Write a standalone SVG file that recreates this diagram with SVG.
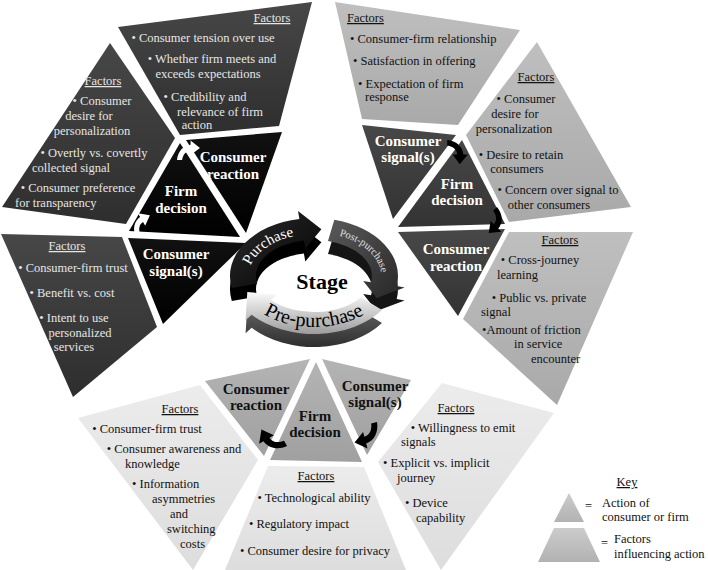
<svg xmlns="http://www.w3.org/2000/svg" width="708" height="570" viewBox="0 0 708 570">
<style>
.f{font-family:"Liberation Serif","Times New Roman",serif;font-size:12.5px}
.lt{fill:#e6e6e6}
.dk{fill:#111111}
.m{text-anchor:middle}
.u{text-decoration:underline}
.a{font-family:"Liberation Serif","Times New Roman",serif;font-weight:bold;font-size:15px;text-anchor:middle}
.aw{fill:#ffffff}
.ab{fill:#111111}
.warr{fill:#ffffff}
.barr{fill:#000000}
</style>
<defs>
<linearGradient id="gLF" x1="0" y1="0" x2="0" y2="1"><stop offset="0" stop-color="#474747"/><stop offset="1" stop-color="#2e2e2e"/></linearGradient>
<linearGradient id="gLA" x1="0" y1="0" x2="0" y2="1"><stop offset="0" stop-color="#111111"/><stop offset="1" stop-color="#000000"/></linearGradient>
<linearGradient id="gRF" x1="0" y1="0" x2="0" y2="1"><stop offset="0" stop-color="#bfbfbf"/><stop offset="1" stop-color="#a9a9a9"/></linearGradient>
<linearGradient id="gRA" x1="0" y1="0" x2="0" y2="1"><stop offset="0" stop-color="#484848"/><stop offset="1" stop-color="#333333"/></linearGradient>
<linearGradient id="gBF" x1="0" y1="0" x2="0" y2="1"><stop offset="0" stop-color="#ececec"/><stop offset="1" stop-color="#dddddd"/></linearGradient>
<linearGradient id="gBA" x1="0" y1="0" x2="0" y2="1"><stop offset="0" stop-color="#b4b4b4"/><stop offset="1" stop-color="#a0a0a0"/></linearGradient>
<linearGradient id="gKey" x1="0" y1="0" x2="0" y2="1"><stop offset="0" stop-color="#cccccc"/><stop offset="1" stop-color="#b2b2b2"/></linearGradient>
<linearGradient id="gPur" x1="0" y1="0" x2="1" y2="1"><stop offset="0" stop-color="#2c2c2c"/><stop offset="1" stop-color="#020202"/></linearGradient>
<linearGradient id="gPost" x1="0" y1="0" x2="1" y2="1"><stop offset="0" stop-color="#5a5a5a"/><stop offset="1" stop-color="#262626"/></linearGradient>
<linearGradient id="gPre" x1="0" y1="0" x2="0" y2="1"><stop offset="0" stop-color="#fbfbfb"/><stop offset="1" stop-color="#9c9c9c"/></linearGradient>
<linearGradient id="gPreX" x1="0" y1="0" x2="0" y2="1"><stop offset="0" stop-color="#666666"/><stop offset="1" stop-color="#2e2e2e"/></linearGradient>
<path id="carrow" d="M0,22 C1,12 7,5 16,4 L16,-1 L27,8 L16,16 L16,11 C11,11 7,15 6,22 Z"/>
<path id="tpPur" d="M248.3,279.7 A66,43 0 0 1 308.2,234.2"/>
<path id="tpPost" d="M331,234 A67,44 0 0 1 381,281"/>
<path id="tpPre" d="M251.8,305.3 A76,51 0 0 0 376.2,305.3"/>
</defs>

<!-- LEFT GROUP (purchase) -->
<g id="L-factors-top">
<polygon points="118,27 312,2 279,126 180,135" fill="url(#gLF)"/>
<text class="f lt m u" x="272" y="22">Factors</text>
<text class="f lt m" x="203" y="42">• Consumer tension over use</text>
<text class="f lt m" x="212" y="63">• Whether firm meets and</text>
<text class="f lt m" x="208" y="78">exceeds expectations</text>
<text class="f lt m" x="205" y="101">• Credibility and</text>
<text class="f lt m" x="220" y="116">relevance of firm</text>
<text class="f lt m" x="197" y="129">action</text>
</g>
<g id="L-factors-left">
<polygon points="110,43 175,138 126,224 2,207" fill="url(#gLF)"/>
<text class="f lt m u" x="103" y="85">Factors</text>
<text class="f lt m" x="102" y="105">• Consumer</text>
<text class="f lt m" x="89" y="120">desire for</text>
<text class="f lt m" x="92" y="135">personalization</text>
<text class="f lt m" x="94" y="157">• Overtly vs. covertly</text>
<text class="f lt" x="32" y="172">collected signal</text>
<text class="f lt m" x="78" y="192">• Consumer preference</text>
<text class="f lt" x="15" y="207">for transparency</text>
</g>
<g id="L-factors-bottom">
<polygon points="1,234 122,237 157,327 73,397" fill="url(#gLF)"/>
<text class="f lt m u" x="67" y="250">Factors</text>
<text class="f lt m" x="73" y="272">• Consumer-firm trust</text>
<text class="f lt m" x="72" y="297">• Benefit vs. cost</text>
<text class="f lt m" x="74" y="322">• Intent to use</text>
<text class="f lt m" x="80" y="337">personalized</text>
<text class="f lt m" x="74" y="351">services</text>
</g>
<g id="L-consumer-reaction">
<polygon points="186,140 282,132 246,233" fill="url(#gLA)"/>
<text class="a aw" x="233" y="162">Consumer</text>
<text class="a aw" x="233" y="179">reaction</text>
</g>
<g id="L-firm-decision">
<polygon points="180,143 129,231 240,237" fill="url(#gLA)"/>
<text class="a aw" x="181" y="196">Firm</text>
<text class="a aw" x="181" y="213">decision</text>
</g>
<g id="L-consumer-signal">
<polygon points="128,238 246,243 163,324" fill="url(#gLA)"/>
<text class="a aw" x="176" y="259">Consumer</text>
<text class="a aw" x="176" y="276">signal(s)</text>
</g>

<!-- RIGHT GROUP (post-purchase) -->
<g id="R-factors-top">
<polygon points="335,2 520,30 458,125 362,119" fill="url(#gRF)"/>
<text class="f dk u" x="347" y="22">Factors</text>
<text class="f dk" x="350" y="43">• Consumer-firm relationship</text>
<text class="f dk" x="353" y="65">• Satisfaction in offering</text>
<text class="f dk" x="358" y="88">• Expectation of firm</text>
<text class="f dk" x="365" y="101">response</text>
</g>
<g id="R-factors-right">
<polygon points="537,42 631,207 509,222 466,135" fill="url(#gRF)"/>
<text class="f dk m u" x="536" y="81">Factors</text>
<text class="f dk m" x="526" y="103">• Consumer</text>
<text class="f dk m" x="515" y="118">desire for</text>
<text class="f dk m" x="514" y="133">personalization</text>
<text class="f dk m" x="521" y="159">• Desire to retain</text>
<text class="f dk m" x="517" y="173">consumers</text>
<text class="f dk m" x="558" y="194">• Concern over signal to</text>
<text class="f dk m" x="549" y="209">other consumers</text>
</g>
<g id="R-factors-bottom">
<polygon points="509,232 633,232 557,405 463,319" fill="url(#gRF)"/>
<text class="f dk m u" x="560" y="244">Factors</text>
<text class="f dk m" x="540" y="264">• Cross-journey</text>
<text class="f dk" x="497" y="279">learning</text>
<text class="f dk m" x="539" y="302">• Public vs. private</text>
<text class="f dk" x="481" y="316">signal</text>
<text class="f dk" x="482" y="334">•Amount of friction</text>
<text class="f dk" x="514" y="348">in service</text>
<text class="f dk" x="531" y="363">encounter</text>
</g>
<g id="R-consumer-signal">
<polygon points="362,125 456,135 393,219" fill="url(#gRA)"/>
<text class="a aw" x="408" y="146">Consumer</text>
<text class="a aw" x="408" y="162">signal(s)</text>
</g>
<g id="R-firm-decision">
<polygon points="462,140 398,227 505,224" fill="url(#gRA)"/>
<text class="a aw" x="457" y="189">Firm</text>
<text class="a aw" x="457" y="205">decision</text>
</g>
<g id="R-consumer-reaction">
<polygon points="398,232 505,229 458,316" fill="url(#gRA)"/>
<text class="a aw" x="456" y="254">Consumer</text>
<text class="a aw" x="456" y="271">reaction</text>
</g>

<!-- BOTTOM GROUP (pre-purchase) -->
<g id="B-factors-left">
<polygon points="78,418 200,385 258,460 193,570" fill="url(#gBF)"/>
<text class="f dk m u" x="180" y="413">Factors</text>
<text class="f dk m" x="147" y="433">• Consumer-firm trust</text>
<text class="f dk m" x="174" y="453">• Consumer awareness and</text>
<text class="f dk" x="125" y="468">knowledge</text>
<text class="f dk" x="132" y="488">• Information</text>
<text class="f dk" x="152" y="503">asymmetries</text>
<text class="f dk" x="170" y="518">and</text>
<text class="f dk" x="167" y="533">switching</text>
<text class="f dk" x="180" y="548">costs</text>
</g>
<g id="B-factors-center">
<polygon points="268,466 364,467 406,570 225,570" fill="url(#gBF)"/>
<text class="f dk m u" x="316" y="480">Factors</text>
<text class="f dk m" x="314" y="502">• Technological ability</text>
<text class="f dk m" x="299" y="528">• Regulatory impact</text>
<text class="f dk m" x="315" y="555">• Consumer desire for privacy</text>
</g>
<g id="B-factors-right">
<polygon points="442,383 554,413 441,570 378,462" fill="url(#gBF)"/>
<text class="f dk m u" x="456" y="412">Factors</text>
<text class="f dk m" x="463" y="432">• Willingness to emit</text>
<text class="f dk" x="401" y="446">signals</text>
<text class="f dk" x="383" y="467">• Explicit vs. implicit</text>
<text class="f dk" x="397" y="482">journey</text>
<text class="f dk" x="405" y="507">• Device</text>
<text class="f dk" x="416" y="522">capability</text>
</g>
<g id="B-consumer-reaction">
<polygon points="205,381 310,359 264,456" fill="url(#gBA)"/>
<text class="a ab" x="256" y="394">Consumer</text>
<text class="a ab" x="256" y="410">reaction</text>
</g>
<g id="B-firm-decision">
<polygon points="316,362 270,460 362,462" fill="url(#gBA)"/>
<text class="a ab" x="315" y="421">Firm</text>
<text class="a ab" x="315" y="437">decision</text>
</g>
<g id="B-consumer-signal">
<polygon points="322,359 411,380 367,455" fill="url(#gBA)"/>
<text class="a ab" x="375" y="391">Consumer</text>
<text class="a ab" x="375" y="407">signal(s)</text>
</g>

<!-- CENTER STAGE RING -->
<g id="stage">
<g id="post-purchase">
<path transform="translate(0,13)" d="M334.3,219.7 A84,58 0 0 1 396.7,286.1 L404.6,287.5 L376.7,298.1 L363.2,280.9 L371.1,282.2 A58,36 0 0 0 328.0,241.1 Z" fill="#151515"/>
<path d="M334.3,219.7 A84,58 0 0 1 396.7,286.1 L404.6,287.5 L376.7,298.1 L363.2,280.9 L371.1,282.2 A58,36 0 0 0 328.0,241.1 Z" fill="url(#gPost)"/>
<text font-family="Liberation Serif, serif" font-size="10.5" fill="#e0e0e0"><textPath href="#tpPost" startOffset="50%" text-anchor="middle">Post-purchase</textPath></text>
</g>
<g id="purchase">
<path transform="translate(0,13)" d="M231.8,288.1 A84,58 0 0 1 299.4,218.9 L298.0,211.0 L321.4,229.3 L305.3,248.4 L303.9,240.5 A58,36 0 0 0 257.3,283.5 Z" fill="#000000"/>
<path d="M231.8,288.1 A84,58 0 0 1 299.4,218.9 L298.0,211.0 L321.4,229.3 L305.3,248.4 L303.9,240.5 A58,36 0 0 0 257.3,283.5 Z" fill="url(#gPur)"/>
<text font-family="Liberation Serif, serif" font-size="15" fill="#ffffff"><textPath href="#tpPur" startOffset="50%" text-anchor="middle">Purchase</textPath></text>
</g>
<g id="pre-purchase">
<path transform="translate(0,13)" d="M382.0,310.1 A84,58 0 0 1 251.6,314.8 L245.6,320.2 L247.3,292.1 L276.8,294.7 L270.9,300.1 A58,36 0 0 0 360.9,297.2 Z" fill="url(#gPreX)"/>
<path d="M382.0,310.1 A84,58 0 0 1 251.6,314.8 L245.6,320.2 L247.3,292.1 L276.8,294.7 L270.9,300.1 A58,36 0 0 0 360.9,297.2 Z" fill="url(#gPre)"/>
<text font-family="Liberation Serif, serif" font-size="20" fill="#000000"><textPath href="#tpPre" startOffset="50%" text-anchor="middle">Pre-purchase</textPath></text>
</g>
<text x="322" y="289" font-family="Liberation Serif, serif" font-weight="bold" font-size="22" text-anchor="middle" fill="#000000">Stage</text>
</g>

<!-- CONNECTORS -->
<g id="connectors">
<use href="#carrow" class="warr" transform="translate(126.6,220.8) rotate(-30) scale(0.85)"/>
<use href="#carrow" class="warr" transform="translate(177,141.3) scale(0.85)"/>
<use href="#carrow" class="barr" transform="translate(467,140) rotate(90) scale(0.9)"/>
<use href="#carrow" class="barr" transform="translate(511,221) rotate(135) scale(0.9)"/>
<use href="#carrow" class="barr" transform="translate(382.7,443.3) rotate(165)"/>
<use href="#carrow" class="barr" transform="translate(268,457) rotate(-120)"/>
</g>

<!-- KEY -->
<g id="key">
<text class="f dk m u" x="627" y="486">Key</text>
<polygon points="569,493 584,522 554,522" fill="url(#gKey)"/>
<polygon points="554,528 584,528 600,562 538,562" fill="url(#gKey)"/>
<text class="f dk" x="585" y="510">=</text>
<text class="f dk" x="602" y="507">Action of</text>
<text class="f dk" x="602" y="521">consumer or firm</text>
<text class="f dk" x="601" y="547">=</text>
<text class="f dk" x="614" y="543">Factors</text>
<text class="f dk" x="614" y="558">influencing action</text>
</g>
</svg>
